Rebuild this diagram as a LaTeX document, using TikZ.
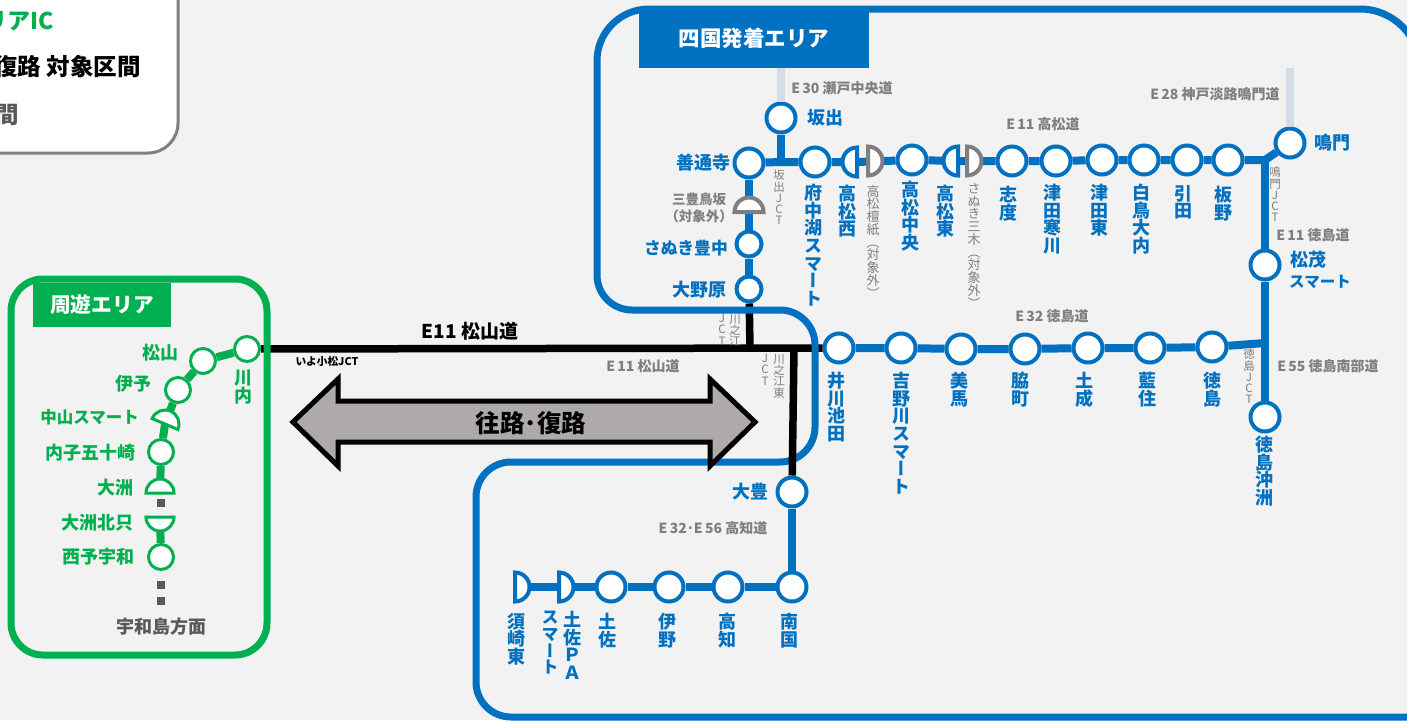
\documentclass[tikz,border=0pt]{standalone}
\usepackage{fontspec}
\setmainfont{Noto Sans CJK JP}
\newfontfamily\jpv[RawFeature=+vert]{Noto Sans CJK JP}
\definecolor{rblue}{HTML}{0070C0}
\definecolor{rgreen}{HTML}{00B050}
\definecolor{rgray}{HTML}{7F7F7F}
\definecolor{dgray}{HTML}{595959}
\definecolor{stub}{HTML}{D6DCE5}
\definecolor{pagebg}{HTML}{F2F2F2}
\definecolor{arrowgray}{HTML}{AEAAAA}
\makeatletter
\newcommand\vt[2][0.98]{\vbox{\baselineskip=#1em\lineskip=0pt\lineskiplimit=-100pt\jpv\@tfor\vch:=#2\do{\hbox to 1em{\hss\vch\hss}}}}
\makeatother
\tikzset{
  st/.style={circle,draw=rblue,fill=white,line width=4pt,minimum size=29pt,inner sep=0pt},
  stg/.style={circle,draw=rgreen,fill=white,line width=3pt,minimum size=25pt,inner sep=0pt},
  bline/.style={draw=rblue,line width=8pt},
  gline/.style={draw=rgreen,line width=8pt},
  kline/.style={draw=black,line width=7.5pt},
  stubline/.style={draw=stub,line width=8pt},
  frameb/.style={draw=rblue,line width=7pt},
  half/.style={fill=white,line width=4pt,line join=miter},
  lb/.style={text=rblue,font=\fontsize{18}{20}\selectfont\bfseries,inner sep=0pt},
  lg/.style={text=rgreen,font=\fontsize{18}{20}\selectfont\bfseries,inner sep=0pt},
  lv/.style={text=rblue,font=\fontsize{18}{20}\selectfont\bfseries,inner sep=0pt,anchor=north},
  lgv/.style={text=rgreen,font=\fontsize{18}{20}\selectfont\bfseries,inner sep=0pt,anchor=north},
  lsm/.style={text=rgray,font=\fontsize{13}{14}\selectfont,inner sep=0pt,anchor=north},
  ljct/.style={text=rgray,font=\fontsize{11.5}{12}\selectfont,inner sep=0pt,anchor=north},
  road/.style={text=rgray,font=\fontsize{14}{16}\selectfont\bfseries,inner sep=0pt},
  tabt/.style={text=white,font=\fontsize{21.5}{24}\selectfont\bfseries,inner sep=0pt},
  sq/.style={fill=dgray,draw=none,minimum size=8pt,inner sep=0pt}
}
\newcommand\halfshape[3]{\begin{scope}[shift={(#1)},rotate=#2]\draw[half,draw=#3] (-14.5pt,0) arc[start angle=180,end angle=0,radius=14.5pt] -- cycle;\end{scope}}
\newcommand\halfg[2]{\begin{scope}[shift={(#1)},rotate=#2]\draw[half,draw=rgreen,line width=3pt] (-14pt,0) arc[start angle=180,end angle=0,radius=14pt] -- cycle;\end{scope}}
\begin{document}
\begin{tikzpicture}[x=1pt,y=1pt]
\useasboundingbox (0,0) rectangle (1407,-720);
\clip (0,0) rectangle (1407,-720);
\fill[pagebg] (0,0) rectangle (1407,-720);
% legend
\draw[draw=rgray,line width=3pt,fill=white,rounded corners=30pt] (-60,60) rectangle (178,-153);
\node[anchor=east,text=rgreen,font=\fontsize{23}{25}\selectfont\bfseries,inner sep=0pt] (legA) at (54,-21) {リアIC};
\node[anchor=east,text=black,font=\fontsize{23.5}{26}\selectfont\bfseries,inner sep=0pt] (legB) at (141,-67) {復路 対象区間};
\node[anchor=east,text=dgray,font=\fontsize{23.5}{26}\selectfont\bfseries,inner sep=0pt] (legC) at (19,-115) {間};
% stations (blue)
\node[st] (sakaide) at (781,-118) {};
\node[st] (zentsuji) at (749,-163) {};
\node[st] (fuchuko) at (815,-162) {};
\node[st] (tkchuo) at (912,-160) {};
\node[st] (shido) at (1012,-161) {};
\node[st] (tsudasa) at (1056,-161) {};
\node[st] (tsudahi) at (1102,-160) {};
\node[st] (shirotori) at (1144,-160) {};
\node[st] (hiketa) at (1187,-160) {};
\node[st] (itano) at (1228,-160) {};
\node[st] (naruto) at (1290,-143) {};
\node[st,minimum size=25pt] (toyonaka) at (749,-244) {};
\node[st,minimum size=25pt] (onohara) at (749,-289) {};
\node[st] (matsushige) at (1265,-265) {};
\node[st] (okinosu) at (1265,-417) {};
\node[st] (ikawa) at (839,-348) {};
\node[st] (yoshino) at (901,-348) {};
\node[st] (mima) at (961,-349) {};
\node[st] (waki) at (1025,-349) {};
\node[st] (donari) at (1088,-348) {};
\node[st] (aizumi) at (1150,-348) {};
\node[st] (tokushima) at (1212,-347) {};
\node[st] (otoyo) at (792,-492) {};
\node[st] (nankoku) at (792,-587) {};
\node[st] (kochi) at (728,-587) {};
\node[st] (ino) at (669,-587) {};
\node[st] (tosa) at (611,-587) {};
% half stations and junctions
\coordinate (tknishi) at (857,-162);
\coordinate (danshi) at (868,-161);
\coordinate (tkhigashi) at (958,-161);
\coordinate (miki) at (967,-161);
\coordinate (mitoyo) at (749,-212);
\coordinate (tosapa) at (559,-587);
\coordinate (susaki) at (515,-587);
\coordinate (jsakaide) at (781,-162);
\coordinate (jnaruto) at (1265,-160);
\coordinate (jtoku) at (1265,-343);
\coordinate (stubA) at (781,-68);
\coordinate (stubB) at (1290,-68);
\coordinate (kwj) at (750,-348);
\coordinate (kwe) at (794,-348);
% green stations
\node[stg] (sennai) at (247,-349) {};
\node[stg] (matsuyama) at (203,-361) {};
\node[stg] (iyo) at (178,-390) {};
\node[stg] (uchiko) at (161,-452) {};
\node[stg] (seiyo) at (161,-557) {};
\coordinate (nakayama) at (165,-424);
\coordinate (ozu) at (160,-493);
\coordinate (ozukita) at (160,-517);
% stubs
\draw[stubline] (stubA) -- (sakaide);
\draw[stubline] (stubB) -- (naruto);
% black lines under the frame
\draw[kline] (sennai) -- (ikawa);
\draw[kline] (onohara) -- (kwj);
% frame blue
\draw[frameb] (1440,-717) [rounded corners=35pt] -- (476,-717) -- (476,-462) -- (815,-462) -- (815,-310) -- (597,-310) [rounded corners=52pt] -- (597,-9) [rounded corners=60pt] -- (1420,-9) -- (1420,-120);
% black over frame
\draw[kline] (kwe) -- (otoyo);
% double arrow
\node[text=black,font=\fontsize{19}{21}\selectfont\bfseries,inner sep=0pt] (e11a) at (470,-331) {E11 松山道};
\node[text=black,font=\fontsize{10.7}{12}\selectfont\bfseries,inner sep=0pt] (iyokomatsu) at (327,-361) {いよ小松JCT};
\node[road] (e11b) at (643,-366) {E\,11 松山道};
\draw[draw=black,fill=arrowgray,line width=5pt,line join=miter] (293,-422) -- (338,-379) -- (338,-401) -- (710,-401) -- (710,-379) -- (755,-422) -- (710,-466) -- (710,-442) -- (338,-442) -- (338,-466) -- cycle;
\node[text=black,font=\fontsize{24.5}{27}\selectfont\bfseries,inner sep=0pt] (oro) at (531,-423) {往路･復路};
% blue connectors
\draw[bline] (sakaide) -- (jsakaide);
\draw[bline] (zentsuji) -- (jsakaide) -- (fuchuko) -- (tknishi) -- (tkchuo) -- (tkhigashi) -- (shido) -- (tsudasa) -- (tsudahi) -- (shirotori) -- (hiketa) -- (itano) -- (jnaruto);
\draw[bline] (jnaruto) -- (naruto);
\draw[bline] (zentsuji) -- (toyonaka);
\draw[bline] (toyonaka) -- (onohara);
\draw[bline] (jnaruto) -- (matsushige);
\draw[bline] (matsushige) -- (okinosu);
\draw[bline] (ikawa) -- (yoshino) -- (mima) -- (waki) -- (donari) -- (aizumi) -- (tokushima) -- (jtoku);
\draw[bline] (otoyo) -- (nankoku);
\draw[bline] (nankoku) -- (kochi) -- (ino) -- (tosa) -- (tosapa) -- (susaki);
% green connectors
\draw[gline] (sennai) -- (matsuyama) -- (iyo) -- (nakayama) -- (uchiko) -- (ozu);
\draw[gline] (ozukita) -- (seiyo);
% half shapes
\halfshape{tknishi}{90}{rblue}
\halfshape{danshi}{-90}{rgray}
\halfshape{tkhigashi}{90}{rblue}
\halfshape{miki}{-90}{rgray}
\halfshape{mitoyo}{0}{rgray}
\halfshape{tosapa}{-90}{rblue}
\halfshape{susaki}{-90}{rblue}
\halfg{nakayama}{-23}
\halfg{ozu}{0}
\halfg{ozukita}{180}
\node[sq] (d1) at (161,-503) {};
\node[sq] (d2) at (161,-585) {};
\node[sq] (d3) at (161,-601) {};
% frames green & tabs
\draw[draw=rgreen,line width=7pt,rounded corners=32pt] (11,-279) rectangle (267,-655);
\fill[rgreen] (33,-283) rectangle (171,-327);
\node[tabt,font=\fontsize{20.7}{23}\selectfont\bfseries] (tabG) at (102,-305) {周遊エリア};
\fill[rblue] (639,-12) rectangle (869,-68);
\node[tabt] (tabB) at (754,-38) {四国発着エリア};
% green labels
\node[lg,anchor=east] at (179,-353) {松山};
\node[lg,anchor=east] at (152,-384) {伊予};
\node[lg,anchor=east,font=\fontsize{16.5}{18}\selectfont\bfseries] at (139,-417) {中山スマート};
\node[lg,anchor=east] at (136,-453) {内子五十崎};
\node[lg,anchor=east] at (134,-488) {大洲};
\node[lg,anchor=east] at (134,-523) {大洲北只};
\node[lg,anchor=east] at (135,-557) {西予宇和};
\node[lgv] at (243,-370) {\vt{川内}};
\node[text=dgray,font=\fontsize{18}{20}\selectfont\bfseries,inner sep=0pt] at (161,-627) {宇和島方面};
% blue horizontal labels
\node[lb,anchor=west] at (807,-118) {坂出};
\node[lb,anchor=east] at (731,-163) {善通寺};
\node[lb,anchor=east,font=\fontsize{16.8}{19}\selectfont\bfseries] at (728,-248) {さぬき豊中};
\node[lb,anchor=east] at (727,-290) {大野原};
\node[lb,anchor=west] at (1314,-143) {鳴門};
\node[lb,anchor=west] at (1290,-260) {松茂};
\node[lb,anchor=west,font=\fontsize{15.5}{18}\selectfont\bfseries] at (1289,-282) {スマート};
\node[lb,anchor=east] at (769,-492) {大豊};
\node[text=rgray,font=\fontsize{13.5}{17}\selectfont\bfseries,inner sep=0pt,align=center] at (699,-208) {三豊鳥坂\\（対象外）};
% vertical labels row 1
\node[lv] at (813,-184) {\vt{府中湖スマート}};
\node[lv] at (847,-185) {\vt{高松西}};
\node[lsm] at (873,-185) {\vt{高松檀紙（対象外）}};
\node[lv] at (910,-181) {\vt{高松中央}};
\node[lv] at (945,-185) {\vt{高松東}};
\node[lsm] at (974,-183) {\vt{さぬき三木（対象外）}};
\node[lv] at (1008,-186) {\vt{志度}};
\node[lv] at (1052,-184) {\vt{津田寒川}};
\node[lv] at (1099,-184) {\vt{津田東}};
\node[lv] at (1141,-184) {\vt{白鳥大内}};
\node[lv] at (1183,-185) {\vt{引田}};
\node[lv] at (1223,-186) {\vt{板野}};
% row 2
\node[lv] at (836,-372) {\vt{井川池田}};
\node[lv] at (901,-372) {\vt{吉野川スマート}};
\node[lv] at (959,-372) {\vt{美馬}};
\node[lv] at (1020,-372) {\vt{脇町}};
\node[lv] at (1084,-372) {\vt{土成}};
\node[lv] at (1147,-372) {\vt{藍住}};
\node[lv] at (1212,-372) {\vt{徳島}};
\node[lv] at (1264,-436) {\vt{徳島沖洲}};
% row 3
\node[lv] at (789,-613) {\vt{南国}};
\node[lv] at (727,-613) {\vt{高知}};
\node[lv] at (667,-613) {\vt{伊野}};
\node[lv] at (607,-613) {\vt{土佐}};
\node[lv] at (572,-611) {\vt{土佐ＰＡ}};
\node[lv,font=\fontsize{17}{19}\selectfont\bfseries] at (550,-611) {\vt{スマート}};
\node[lv] at (516,-613) {\vt{須崎東}};
% JCT labels
\node[ljct] at (779,-170) {\vt{坂出JCT}};
\node[ljct] at (1275,-167) {\vt{鳴門JCT}};
\node[ljct] at (1249,-349) {\vt{徳島JCT}};
\node[ljct] at (735,-314) {\vt{川之江}};
\node[ljct] at (722,-314) {\vt{JCT}};
\node[ljct] at (779,-354) {\vt{川之江東}};
\node[ljct] at (765,-354) {\vt{JCT}};
% road labels
\node[road] at (842,-88) {E\,30 瀬戸中央道};
\node[road] at (1215,-94) {E\,28 神戸淡路鳴門道};
\node[road] at (1043,-124) {E\,11 高松道};
\node[road] at (1313,-235) {E\,11 徳島道};
\node[road] at (1052,-316) {E\,32 徳島道};
\node[road] at (1328,-366) {E\,55 徳島南部道};
\node[road] at (713,-528) {E\,32･E\,56 高知道};
\end{tikzpicture}
\end{document}
